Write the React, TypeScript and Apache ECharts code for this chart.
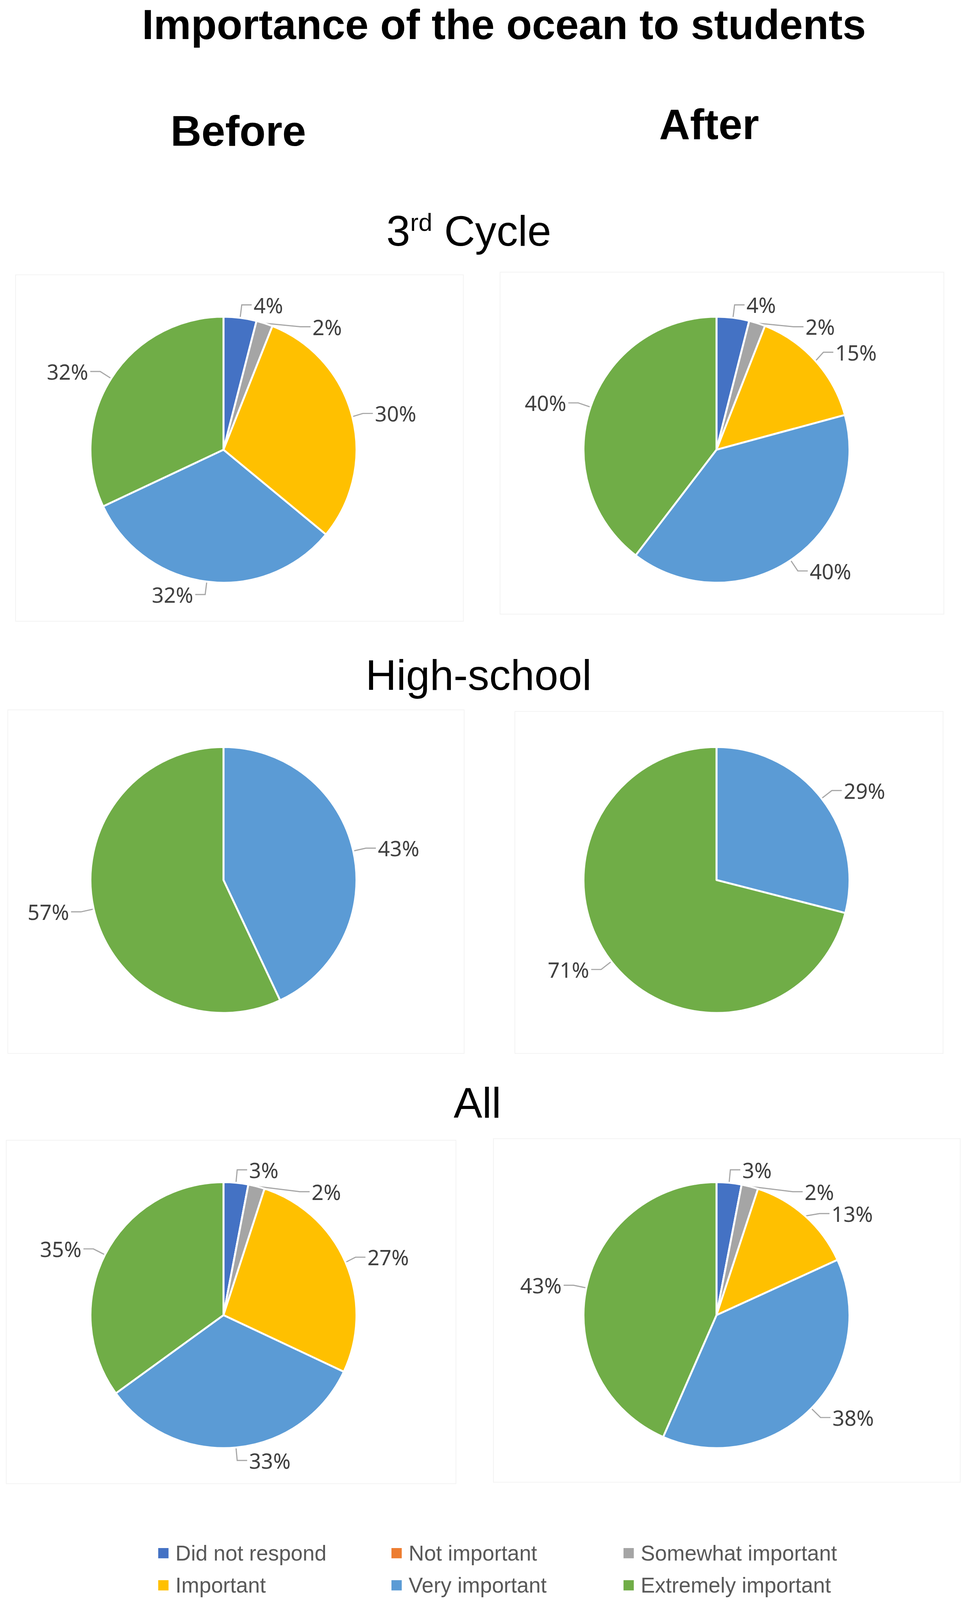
import React, { useEffect, useRef, useState } from "react";
import * as echarts from "echarts";

// ---- data ----
const categories = [
  "Did not respond",
  "Not important",
  "Somewhat important",
  "Important",
  "Very important",
  "Extremely important",
];
const categoryColors = ["#4472C4", "#ED7D31", "#A5A5A5", "#FFC000", "#5B9BD5", "#70AD47"];

const cycleBefore = [4, 0, 2, 30, 32, 32];
const cycleAfter = [4, 0, 2, 15, 40, 40];
const highSchoolBefore = [0, 0, 0, 0, 43, 57];
const highSchoolAfter = [0, 0, 0, 0, 29, 71];
const allBefore = [3, 0, 2, 27, 33, 35];
const allAfter = [3, 0, 2, 13, 38, 43];

const chartTitle = "Importance of the ocean to students";
const columnTitles = ["Before", "After"];
const sectionTitles = ["3rd Cycle", "High-school", "All"];

// ---- layout (reference pixel space 2465 x 4280) ----
const REF_W = 2465;
const REF_H = 4280;
const PIE_R = 348;
const COL_X = [572, 1834];
const ROW_Y = [1203, 2354, 3518];
const LEGEND_LEFT = [403, 1000, 1594];
const LEGEND_TOP = [4126, 4212];

const LABEL_FONT = "Noto Sans";
const HEAD_FONT = "Liberation Sans";

export default function App() {
  const ref = useRef<HTMLDivElement>(null);
  const [size] = useState(() => ({
    w: typeof window !== "undefined" ? window.innerWidth : REF_W,
    h: typeof window !== "undefined" ? window.innerHeight : REF_H,
  }));

  useEffect(() => {
    document.body.style.margin = "0";
    document.body.style.overflow = "hidden";
    if (!ref.current) return;
    const chart = echarts.init(ref.current, undefined, { renderer: "svg" });

    const sx = size.w / REF_W;
    const sy = size.h / REF_H;
    const s = Math.sqrt(sx * sy);
    const X = (v: number) => v * sx;
    const Y = (v: number) => v * sy;
    const F = (v: number) => v * s;

    const pieSeries = (id: string, values: number[], cx: number, cy: number) => ({
      type: "pie",
      id,
      center: [X(cx), Y(cy)],
      radius: F(PIE_R),
      startAngle: 90,
      clockwise: true,
      avoidLabelOverlap: true,
      silent: true,
      itemStyle: { borderColor: "#FFFFFF", borderWidth: F(5) },
      label: {
        show: true,
        position: "outside",
        formatter: "{c}%",
        fontSize: F(55),
        fontFamily: LABEL_FONT,
        color: "#404040",
      },
      labelLine: {
        show: true,
        length: F(34),
        length2: F(26),
        lineStyle: { color: "#A6A6A6", width: F(3) },
      },
      emphasis: { disabled: true },
      data: categories.map((name, i) => ({
        name,
        value: values[i],
        itemStyle: { color: categoryColors[i] },
        ...(values[i] === 0 ? { label: { show: false }, labelLine: { show: false } } : {}),
      })),
    });

    const headStyle = (fs: number, bold: boolean) => ({
      fontSize: F(fs),
      fontWeight: bold ? "bold" : "normal",
      fontFamily: HEAD_FONT,
      fill: "#000000",
      align: "center",
      verticalAlign: "middle",
    });

    const areaRect = (x: number, y: number, w: number, h: number) => ({
      type: "rect",
      z: -1,
      silent: true,
      shape: { x: X(x), y: Y(y), width: X(w), height: Y(h) },
      style: { fill: "none", stroke: "#F3F3F3", lineWidth: 2 },
    });

    const option: any = {
      animation: false,
      backgroundColor: "#FFFFFF",
      legend: categories.map((name, i) => ({
        data: [name],
        left: X(LEGEND_LEFT[i % 3]),
        top: Y(LEGEND_TOP[Math.floor(i / 3)]),
        icon: "rect",
        itemWidth: F(29),
        itemHeight: F(29),
        padding: 0,
        selectedMode: false,
        textStyle: {
          fontSize: F(56),
          color: "#595959",
          fontFamily: HEAD_FONT,
          padding: [0, 0, 0, F(12)],
        },
      })),
      graphic: [
        areaRect(40, 735, 1146, 927),
        areaRect(1280, 728, 1136, 915),
        areaRect(20, 1899, 1168, 919),
        areaRect(1318, 1903, 1096, 915),
        areaRect(16, 3050, 1151, 919),
        areaRect(1263, 3046, 1195, 919),
        { type: "text", x: X(1290), y: Y(66), style: { text: chartTitle, ...headStyle(110, true) } },
        { type: "text", x: X(610), y: Y(350), style: { text: columnTitles[0], ...headStyle(112, true) } },
        { type: "text", x: X(1815), y: Y(332), style: { text: columnTitles[1], ...headStyle(112, true) } },
        {
          type: "text",
          x: X(1200),
          y: Y(618),
          style: {
            text: "{n|3}{s|rd}{n| Cycle}",
            align: "center",
            verticalAlign: "middle",
            fill: "#000000",
            fontFamily: HEAD_FONT,
            fontSize: F(112),
            rich: {
              n: { fontSize: F(112), fontFamily: HEAD_FONT, fill: "#000000" },
              s: { fontSize: F(65), fontFamily: HEAD_FONT, fill: "#000000", verticalAlign: "top" },
            },
          },
        },
        { type: "text", x: X(1225), y: Y(1806), style: { text: sectionTitles[1], ...headStyle(112, false) } },
        { type: "text", x: X(1222), y: Y(2950), style: { text: sectionTitles[2], ...headStyle(112, false) } },
      ],
      series: [
        pieSeries("cycleBefore", cycleBefore, COL_X[0], ROW_Y[0]),
        pieSeries("cycleAfter", cycleAfter, COL_X[1], ROW_Y[0]),
        pieSeries("highSchoolBefore", highSchoolBefore, COL_X[0], ROW_Y[1]),
        pieSeries("highSchoolAfter", highSchoolAfter, COL_X[1], ROW_Y[1]),
        pieSeries("allBefore", allBefore, COL_X[0], ROW_Y[2]),
        pieSeries("allAfter", allAfter, COL_X[1], ROW_Y[2]),
      ],
    };

    chart.setOption(option);
    return () => {
      chart.dispose();
    };
  }, [size]);

  return <div ref={ref} style={{ width: size.w, height: size.h }} />;
}
